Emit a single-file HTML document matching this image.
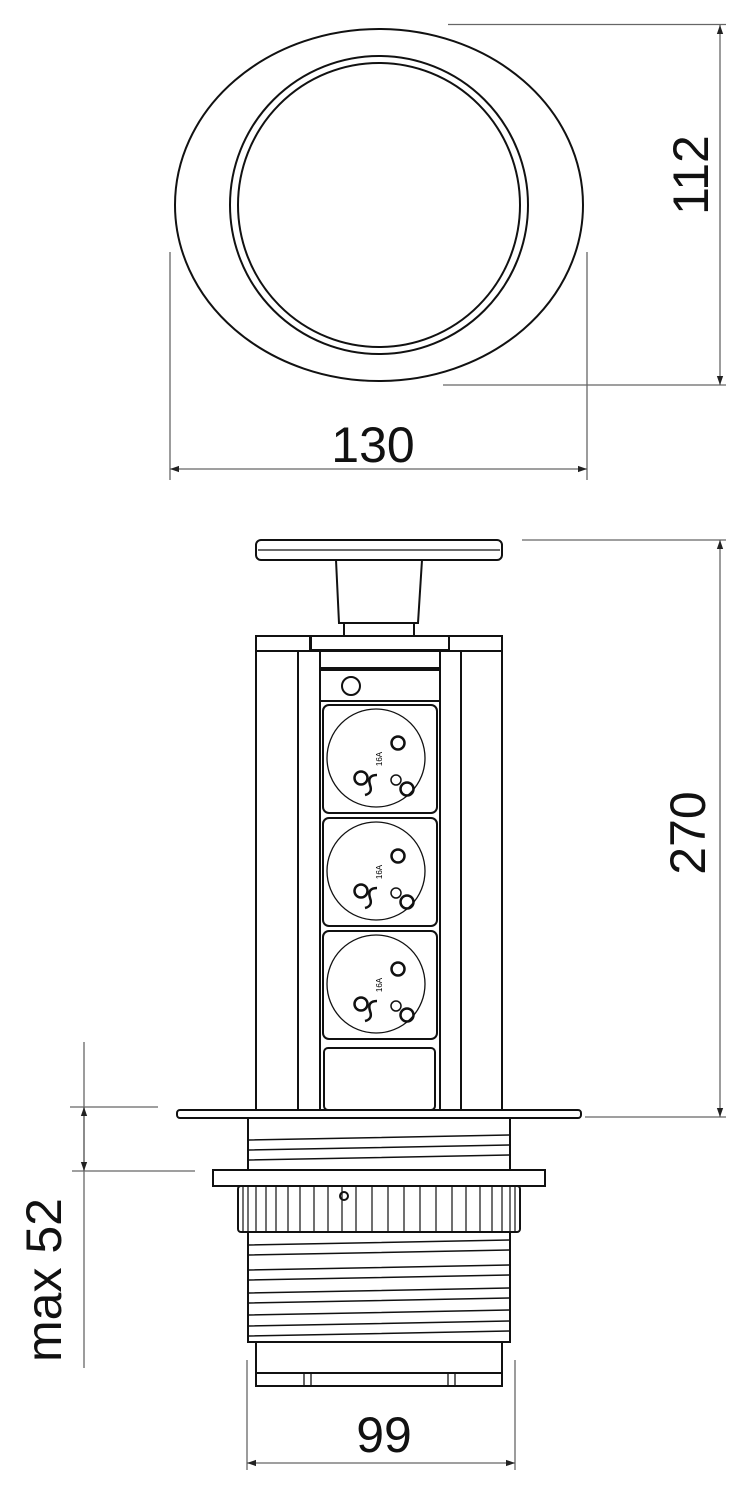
<!DOCTYPE html>
<html><head><meta charset="utf-8"><style>html,body{margin:0;padding:0;background:#fff}svg{display:block}</style></head>
<body>
<svg width="740" height="1494" viewBox="0 0 740 1494" xmlns="http://www.w3.org/2000/svg">
<defs>
<marker id="a" viewBox="0 0 10 10" refX="10" refY="5" markerWidth="9" markerHeight="9" orient="auto-start-reverse" markerUnits="userSpaceOnUse"><path d="M0,1.5 L10,5 L0,8.5 z" fill="#222"/></marker>
<g id="sock">
<rect x="323" y="0" width="114" height="108" rx="6" fill="none" stroke="#111" stroke-width="2"/>
<circle cx="376" cy="53" r="49" fill="none" stroke="#111" stroke-width="1.3"/>
<circle cx="398" cy="38" r="6.5" fill="none" stroke="#111" stroke-width="2.5"/>
<circle cx="361" cy="73" r="6.5" fill="none" stroke="#111" stroke-width="2.5"/>
<circle cx="396" cy="75" r="5" fill="none" stroke="#111" stroke-width="1.5"/>
<circle cx="407" cy="84" r="6.5" fill="none" stroke="#111" stroke-width="2.5"/>
<path d="M377,70 q-10,0 -7,10 q3,8 -5,10" fill="none" stroke="#111" stroke-width="2.5"/>
<text x="0" y="0" font-family="Liberation Sans, sans-serif" font-size="8" transform="translate(382,54) rotate(-90)" text-anchor="middle">16A</text>
</g>
</defs>
<g fill="none" stroke="#111" stroke-width="2">
<ellipse cx="379" cy="205" rx="204" ry="176"/>
<ellipse cx="379" cy="205" rx="149" ry="149"/>
<ellipse cx="379" cy="205" rx="141" ry="142"/>
</g>
<g stroke="#666" stroke-width="1.3" fill="none">
<line x1="448" y1="24.5" x2="726" y2="24.5"/>
<line x1="443" y1="385" x2="726" y2="385"/>
<line x1="720" y1="25" x2="720" y2="385" marker-start="url(#a)" marker-end="url(#a)"/>
<line x1="170" y1="252" x2="170" y2="480"/>
<line x1="587" y1="252" x2="587" y2="480"/>
<line x1="170" y1="469" x2="587" y2="469" marker-start="url(#a)" marker-end="url(#a)"/>
<line x1="522" y1="540" x2="726" y2="540"/>
<line x1="585" y1="1117" x2="726" y2="1117"/>
<line x1="720" y1="540" x2="720" y2="1117" marker-start="url(#a)" marker-end="url(#a)"/>
<line x1="84" y1="1042" x2="84" y2="1368"/>
<line x1="70" y1="1107" x2="158" y2="1107"/>
<line x1="72" y1="1171" x2="195" y2="1171"/>
<line x1="84" y1="1107" x2="84" y2="1171" marker-start="url(#a)" marker-end="url(#a)"/>
<line x1="247" y1="1360" x2="247" y2="1470"/>
<line x1="515" y1="1360" x2="515" y2="1470"/>
<line x1="247" y1="1463" x2="515" y2="1463" marker-start="url(#a)" marker-end="url(#a)"/>
</g>
<g font-family="Liberation Sans, sans-serif" font-size="50" fill="#111" text-anchor="middle">
<text transform="translate(708,175) rotate(-90)">112</text>
<text x="373" y="462">130</text>
<text transform="translate(705,833) rotate(-90)">270</text>
<text transform="translate(61,1280) rotate(-90)">max 52</text>
<text x="384" y="1452">99</text>
</g>
<g fill="none" stroke="#111" stroke-width="2">
<rect x="256" y="540" width="246" height="20" rx="5"/>
<line x1="258" y1="550" x2="500" y2="550" stroke-width="1.2"/>
<path d="M336,560 L339,623 L418,623 L422,560"/>
<rect x="344" y="623" width="70" height="13"/>
<rect x="256" y="636" width="54" height="15"/>
<rect x="449" y="636" width="53" height="15"/>
<rect x="311" y="636" width="138" height="14"/>
<rect x="256" y="651" width="246" height="459"/>
<line x1="298" y1="651" x2="298" y2="1110"/>
<line x1="320" y1="651" x2="320" y2="1110"/>
<line x1="440" y1="651" x2="440" y2="1110"/>
<line x1="461" y1="651" x2="461" y2="1110"/>
<line x1="320" y1="668" x2="440" y2="668"/>
<rect x="320" y="670" width="120" height="31"/>
<circle cx="351" cy="686" r="9"/>
<rect x="324" y="1048" width="111" height="62" rx="4"/>
<rect x="177" y="1110" width="404" height="8" rx="3"/>
<rect x="248" y="1118" width="262" height="52"/>
<path d="M249,1140 L509,1135 M249,1150 L509,1145 M249,1160 L509,1155" stroke-width="1.5"/>
<rect x="213" y="1170" width="332" height="16"/>
<rect x="238" y="1186" width="282" height="46" rx="3"/>
<path d="M243,1186v46M248,1186v46M256,1186v46M266,1186v46M276,1186v46M288,1186v46M300,1186v46M314,1186v46M328,1186v46M342,1186v46M356,1186v46M372,1186v46M388,1186v46M404,1186v46M420,1186v46M436,1186v46M452,1186v46M466,1186v46M480,1186v46M492,1186v46M502,1186v46M510,1186v46M515,1186v46" stroke-width="1.2"/>
<circle cx="344" cy="1196" r="4"/>
<rect x="248" y="1232" width="262" height="110"/>
<path d="M249,1245 L509,1240 M249,1255 L509,1250 M249,1270 L509,1265 M249,1280 L509,1275 M249,1293 L509,1288 M249,1303 L509,1298 M249,1315 L509,1310 M249,1326 L509,1321 M249,1336 L509,1331" stroke-width="1.5"/>
<rect x="256" y="1342" width="246" height="44"/>
<line x1="256" y1="1373" x2="502" y2="1373"/>
<rect x="304" y="1373" width="7" height="13" stroke-width="1.3"/>
<rect x="448" y="1373" width="7" height="13" stroke-width="1.3"/>
</g>
<use href="#sock" y="705"/>
<use href="#sock" y="818"/>
<use href="#sock" y="931"/>
</svg>
</body></html>
